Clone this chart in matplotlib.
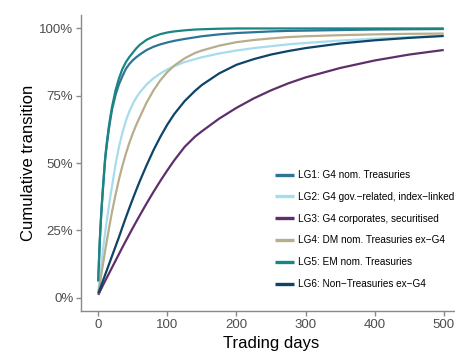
import matplotlib
matplotlib.use("Agg")
import matplotlib.pyplot as plt
from matplotlib.ticker import FuncFormatter

plt.rcParams['font.family'] = ['Liberation Sans', 'DejaVu Sans']

# trading days at which the cumulative transition share was sampled
days = [0, 1, 2, 3, 4, 5, 7, 10, 12, 15, 17, 20, 25, 30, 35, 40, 45, 50, 55,
        60, 70, 80, 90, 100, 110, 125, 140, 150, 175, 200, 225, 250, 275,
        300, 350, 400, 450, 500]

lg1 = [6, 13.5, 20, 25, 29.7, 34, 41.3, 51.5, 56, 62, 65.3, 70, 75.3, 79.3,
       82.3, 85, 86.8, 88.2, 89.3, 90.3, 92, 93.2, 94.1, 94.8, 95.4, 96.1,
       96.7, 97.1, 97.8, 98.3, 98.6, 98.9, 99.1, 99.2, 99.4, 99.6, 99.7, 99.8]
lg2 = [2, 4.5, 7, 9.5, 11.8, 14, 18.3, 24.3, 28, 33.3, 36.7, 41.5, 49.5, 56,
       61.3, 65.7, 69.2, 72, 74.3, 76.2, 79.2, 81.5, 83.3, 84.8, 86, 87.5,
       88.6, 89.3, 90.7, 91.8, 92.7, 93.4, 94.1, 94.6, 95.5, 96.2, 96.8, 97.3]
lg3 = [1, 1.5, 2, 2.6, 3.1, 3.6, 4.7, 6.2, 7.2, 8.7, 9.7, 11.2, 13.7, 16.2,
       18.7, 21.1, 23.5, 25.9, 28.2, 30.5, 35, 39.3, 43.4, 47.3, 51, 56,
       59.8, 61.8, 66.5, 70.5, 74, 77, 79.6, 81.8, 85.3, 88.1, 90.3, 92]
lg4 = [1.5, 3, 4.5, 6.2, 7.8, 9.5, 12.7, 17.5, 20.5, 25, 27.8, 32, 38.2, 44,
       49, 53.5, 57.5, 61, 64.2, 67, 72.5, 77, 80.8, 83.8, 86.2, 88.9,
       90.9, 91.8, 93.6, 94.9, 95.7, 96.3, 96.8, 97.1, 97.5, 97.8, 98, 98.1]
lg5 = [6, 13.5, 20, 25, 29.7, 34, 41.5, 52, 56.8, 63, 66.4, 71, 77, 81.5,
       85, 87.5, 89.4, 91, 92.6, 93.9, 95.8, 97, 97.9, 98.5, 98.9, 99.3,
       99.6, 99.7, 99.9, 100, 100, 100, 100, 100, 100, 100, 100, 100]
lg6 = [1.5, 2.2, 2.9, 3.6, 4.3, 5, 6.4, 8.5, 9.9, 12, 13.4, 15.5, 19, 22.5,
       26.2, 29.8, 33.3, 36.7, 40, 43.2, 49.2, 54.8, 59.8, 64.3, 68.2, 73,
       76.8, 79, 83.3, 86.5, 88.6, 90.3, 91.6, 92.7, 94.4, 95.6, 96.5, 97.2]

labels = ["LG1: G4 nom. Treasuries",
          "LG2: G4 gov.\u2212related, index\u2212linked",
          "LG3: G4 corporates, securitised",
          "LG4: DM nom. Treasuries ex\u2212G4",
          "LG5: EM nom. Treasuries",
          "LG6: Non\u2212Treasuries ex\u2212G4"]
series = [lg1, lg2, lg3, lg4, lg5, lg6]
colors = ["#2d7597", "#a7dcee", "#5f2f6b", "#b8ae8c", "#1b8584", "#0d4467"]

fig = plt.figure(figsize=(4.55, 3.54), dpi=100)
ax = fig.add_axes([81 / 455, 43 / 354, 380 / 455, 296 / 354])

for vals, lab, col in zip(series, labels, colors):
    ax.plot(days, [v / 100 for v in vals], color=col, lw=1.6, label=lab,
            solid_capstyle='butt', solid_joinstyle='round')

ax.set_xlim(-25, 525)
ax.set_ylim(-0.05, 1.05)
ax.set_xticks([0, 100, 200, 300, 400, 500])
ax.set_yticks([0, 0.25, 0.5, 0.75, 1.0])
ax.yaxis.set_major_formatter(FuncFormatter(lambda v, p: f"{v * 100:.0f}%"))

for s in ['top', 'right']:
    ax.spines[s].set_visible(False)
for s in ['left', 'bottom']:
    ax.spines[s].set_color('#8a8a8a')
    ax.spines[s].set_linewidth(1.0)
ax.tick_params(colors='#8a8a8a', length=3.5, width=1.0, labelsize=9.5,
               labelcolor='#4d4d4d', pad=2)

ax.set_xlabel("Trading days", fontsize=12, labelpad=4)
ax.set_ylabel("Cumulative transition", fontsize=12, labelpad=2)

leg = ax.legend(loc='upper left', bbox_to_anchor=(275 / 455, 1 - 170 / 354),
                bbox_transform=fig.transFigure, frameon=False, fontsize=7.2,
                handlelength=1.9, handletextpad=0.45, labelspacing=1.18,
                borderpad=0, borderaxespad=0)
for h in leg.get_lines():
    h.set_linewidth(2.4)

fig.savefig("out.png", dpi=100)
